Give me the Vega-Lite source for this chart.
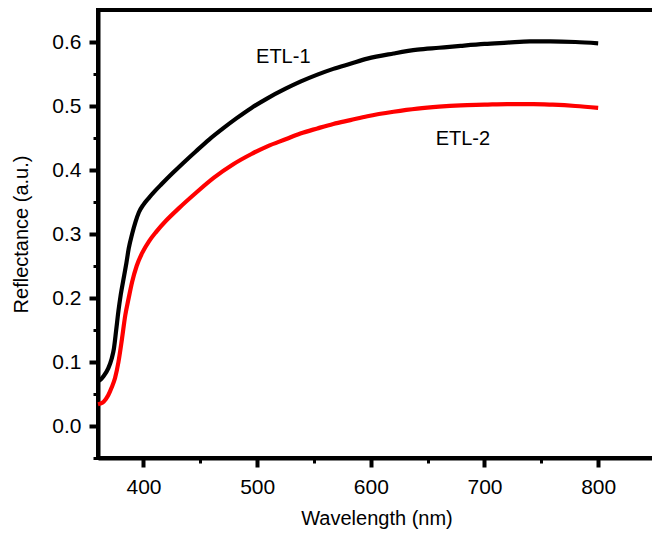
{
  "$schema": "https://vega.github.io/schema/vega-lite/v6.json",
  "width": 557,
  "height": 448,
  "autosize": {"type": "none"},
  "padding": {"left": 98, "top": 10, "right": 0, "bottom": 80},
  "background": "white",
  "config": {
    "font": "Liberation Sans",
    "view": {"stroke": "black", "strokeWidth": 4},
    "axis": {
      "domainColor": "black",
      "domainWidth": 4,
      "tickColor": "black",
      "grid": false,
      "labelFont": "Liberation Sans",
      "titleFont": "Liberation Sans",
      "labelFontSize": 21,
      "titleFontSize": 20,
      "labelColor": "black",
      "titleColor": "black",
      "titleFontWeight": "normal"
    }
  },
  "datasets": {
    "spectra": [
      {"series": "ETL-1", "wl": 360, "r": 0.070},
      {"series": "ETL-1", "wl": 362, "r": 0.072},
      {"series": "ETL-1", "wl": 365, "r": 0.078},
      {"series": "ETL-1", "wl": 369, "r": 0.090},
      {"series": "ETL-1", "wl": 372, "r": 0.105},
      {"series": "ETL-1", "wl": 374, "r": 0.121},
      {"series": "ETL-1", "wl": 376, "r": 0.150},
      {"series": "ETL-1", "wl": 378, "r": 0.180},
      {"series": "ETL-1", "wl": 380, "r": 0.205},
      {"series": "ETL-1", "wl": 383, "r": 0.235},
      {"series": "ETL-1", "wl": 385, "r": 0.255},
      {"series": "ETL-1", "wl": 387, "r": 0.277},
      {"series": "ETL-1", "wl": 390, "r": 0.300},
      {"series": "ETL-1", "wl": 393, "r": 0.319},
      {"series": "ETL-1", "wl": 396, "r": 0.334},
      {"series": "ETL-1", "wl": 400, "r": 0.346},
      {"series": "ETL-1", "wl": 405, "r": 0.357},
      {"series": "ETL-1", "wl": 410, "r": 0.367},
      {"series": "ETL-1", "wl": 416, "r": 0.378},
      {"series": "ETL-1", "wl": 425, "r": 0.394},
      {"series": "ETL-1", "wl": 435, "r": 0.411},
      {"series": "ETL-1", "wl": 446, "r": 0.429},
      {"series": "ETL-1", "wl": 458, "r": 0.448},
      {"series": "ETL-1", "wl": 470, "r": 0.465},
      {"series": "ETL-1", "wl": 482, "r": 0.481},
      {"series": "ETL-1", "wl": 495, "r": 0.497},
      {"series": "ETL-1", "wl": 509, "r": 0.512},
      {"series": "ETL-1", "wl": 525, "r": 0.527},
      {"series": "ETL-1", "wl": 538, "r": 0.538},
      {"series": "ETL-1", "wl": 553, "r": 0.549},
      {"series": "ETL-1", "wl": 567, "r": 0.558},
      {"series": "ETL-1", "wl": 582, "r": 0.566},
      {"series": "ETL-1", "wl": 597, "r": 0.574},
      {"series": "ETL-1", "wl": 620, "r": 0.582},
      {"series": "ETL-1", "wl": 641, "r": 0.588},
      {"series": "ETL-1", "wl": 660, "r": 0.591},
      {"series": "ETL-1", "wl": 679, "r": 0.594},
      {"series": "ETL-1", "wl": 700, "r": 0.597},
      {"series": "ETL-1", "wl": 720, "r": 0.599},
      {"series": "ETL-1", "wl": 740, "r": 0.601},
      {"series": "ETL-1", "wl": 758, "r": 0.601},
      {"series": "ETL-1", "wl": 780, "r": 0.600},
      {"series": "ETL-1", "wl": 800, "r": 0.598},
      {"series": "ETL-2", "wl": 360, "r": 0.034},
      {"series": "ETL-2", "wl": 362, "r": 0.035},
      {"series": "ETL-2", "wl": 365, "r": 0.038},
      {"series": "ETL-2", "wl": 369, "r": 0.048},
      {"series": "ETL-2", "wl": 372, "r": 0.060},
      {"series": "ETL-2", "wl": 375, "r": 0.075},
      {"series": "ETL-2", "wl": 378, "r": 0.100},
      {"series": "ETL-2", "wl": 381, "r": 0.135},
      {"series": "ETL-2", "wl": 384, "r": 0.173},
      {"series": "ETL-2", "wl": 387, "r": 0.200},
      {"series": "ETL-2", "wl": 390, "r": 0.225},
      {"series": "ETL-2", "wl": 394, "r": 0.250},
      {"series": "ETL-2", "wl": 399, "r": 0.271},
      {"series": "ETL-2", "wl": 405, "r": 0.289},
      {"series": "ETL-2", "wl": 411, "r": 0.303},
      {"series": "ETL-2", "wl": 420, "r": 0.321},
      {"series": "ETL-2", "wl": 431, "r": 0.340},
      {"series": "ETL-2", "wl": 446, "r": 0.364},
      {"series": "ETL-2", "wl": 462, "r": 0.388},
      {"series": "ETL-2", "wl": 479, "r": 0.409},
      {"series": "ETL-2", "wl": 495, "r": 0.425},
      {"series": "ETL-2", "wl": 509, "r": 0.437},
      {"series": "ETL-2", "wl": 525, "r": 0.448},
      {"series": "ETL-2", "wl": 538, "r": 0.457},
      {"series": "ETL-2", "wl": 553, "r": 0.465},
      {"series": "ETL-2", "wl": 567, "r": 0.472},
      {"series": "ETL-2", "wl": 582, "r": 0.478},
      {"series": "ETL-2", "wl": 597, "r": 0.484},
      {"series": "ETL-2", "wl": 620, "r": 0.491},
      {"series": "ETL-2", "wl": 641, "r": 0.496},
      {"series": "ETL-2", "wl": 660, "r": 0.499},
      {"series": "ETL-2", "wl": 679, "r": 0.501},
      {"series": "ETL-2", "wl": 700, "r": 0.502},
      {"series": "ETL-2", "wl": 720, "r": 0.503},
      {"series": "ETL-2", "wl": 743, "r": 0.503},
      {"series": "ETL-2", "wl": 760, "r": 0.502},
      {"series": "ETL-2", "wl": 780, "r": 0.500},
      {"series": "ETL-2", "wl": 800, "r": 0.497}
    ],
    "labels": [
      {"series": "ETL-1", "wl": 523, "r": 0.577},
      {"series": "ETL-2", "wl": 681, "r": 0.448}
    ]
  },
  "layer": [
    {
      "data": {"name": "spectra"},
      "mark": {"type": "line", "strokeWidth": 4.2, "interpolate": "monotone"},
      "encoding": {
        "x": {
          "field": "wl", "type": "quantitative",
          "scale": {"domain": [360, 850], "nice": false, "zero": false},
          "axis": {
            "orient": "bottom",
            "title": "Wavelength (nm)",
            "values": [400, 500, 600, 700, 800],
            "tickSize": 9, "tickWidth": 4,
            "labelPadding": 9, "titlePadding": 11
          }
        },
        "y": {
          "field": "r", "type": "quantitative",
          "scale": {"domain": [-0.05, 0.65], "nice": false, "zero": false},
          "axis": {
            "orient": "left",
            "title": "Reflectance (a.u.)",
            "values": [0, 0.1, 0.2, 0.3, 0.4, 0.5, 0.6],
            "format": ".1f",
            "tickSize": 9, "tickWidth": 4,
            "labelPadding": 8, "titlePadding": 20
          }
        },
        "color": {
          "field": "series", "type": "nominal",
          "scale": {"domain": ["ETL-1", "ETL-2"], "range": ["#000000", "#ff0000"]},
          "legend": null
        }
      }
    },
    {
      "data": {"name": "spectra"},
      "mark": {"type": "line", "opacity": 0},
      "encoding": {
        "x": {
          "field": "wl", "type": "quantitative",
          "axis": {
            "orient": "bottom", "title": null, "labels": false, "domain": false,
            "values": [450, 550, 650, 750],
            "tickSize": 5, "tickWidth": 3
          }
        },
        "y": {
          "field": "r", "type": "quantitative",
          "axis": {
            "orient": "left", "title": null, "labels": false, "domain": false,
            "values": [-0.05, 0.05, 0.15, 0.25, 0.35, 0.45, 0.55],
            "tickSize": 5, "tickWidth": 3
          }
        }
      }
    },
    {
      "data": {"name": "labels"},
      "mark": {"type": "text", "fontSize": 20, "font": "Liberation Sans", "color": "black"},
      "encoding": {
        "x": {"field": "wl", "type": "quantitative", "axis": null},
        "y": {"field": "r", "type": "quantitative", "axis": null},
        "text": {"field": "series"}
      }
    }
  ],
  "resolve": {"axis": {"x": "independent", "y": "independent"}}
}
